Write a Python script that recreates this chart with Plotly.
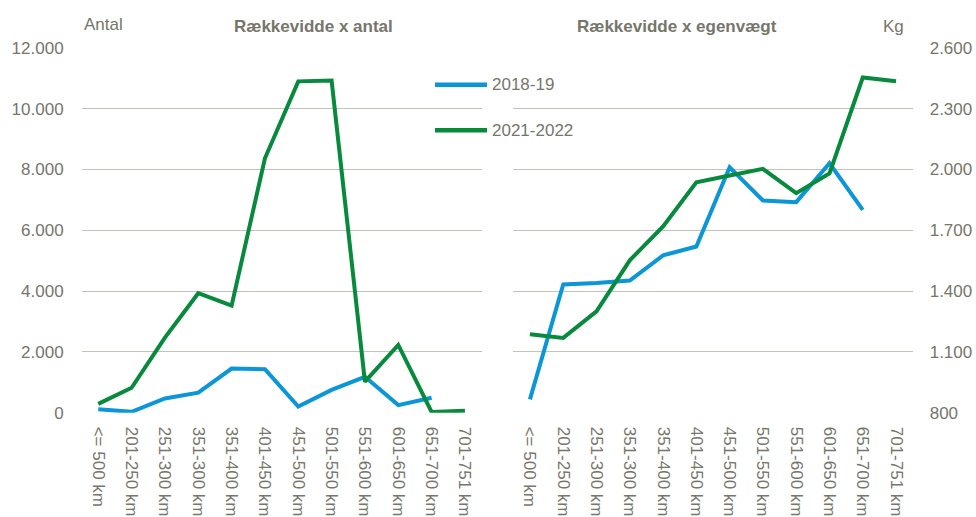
import plotly.graph_objects as go

categories = ["<= 500 km", "201-250 km", "251-300 km", "351-300 km", "351-400 km",
              "401-450 km", "451-500 km", "501-550 km", "551-600 km", "601-650 km",
              "651-700 km", "701-751 km"]

antal_2018 = [110, 30, 470, 660, 1450, 1430, 200, 750, 1180, 250, 490, None]
antal_2021 = [290, 820, 2470, 3930, 3520, 8370, 10900, 10930, 1020, 2230, 25, 65]

kg_2018 = [866, 1433, 1440, 1452, 1576, 1620, 2011, 1847, 1839, 2031, 1801, None]
kg_2021 = [1187, 1169, 1300, 1552, 1719, 1937, 1970, 2003, 1883, 1981, 2454, 2436]

series_names = ["2018-19", "2021-2022"]
left_ticks = [0, 2000, 4000, 6000, 8000, 10000, 12000]
right_ticks = [800, 1100, 1400, 1700, 2000, 2300, 2600]

BLUE = "#0A96D7"
GREEN = "#088A3C"
TXT = "#76766A"
GRID = "#C3C3BA"
FONT = "Liberation Sans, Arial, sans-serif"
FS = 17

W, H = 976, 517
def px(x):
    return x / W
def py(y):
    return 1 - y / H

fig = go.Figure()
fig.add_trace(go.Scatter(x=categories, y=antal_2018, mode="lines", name=series_names[0],
                         line=dict(color=BLUE, width=4), xaxis="x", yaxis="y", showlegend=False,
                         connectgaps=False))
fig.add_trace(go.Scatter(x=categories, y=antal_2021, mode="lines", name=series_names[1],
                         line=dict(color=GREEN, width=4), xaxis="x", yaxis="y", showlegend=False))
fig.add_trace(go.Scatter(x=categories, y=kg_2018, mode="lines", name=series_names[0],
                         line=dict(color=BLUE, width=4), xaxis="x2", yaxis="y2", showlegend=False))
fig.add_trace(go.Scatter(x=categories, y=kg_2021, mode="lines", name=series_names[1],
                         line=dict(color=GREEN, width=4), xaxis="x2", yaxis="y2", showlegend=False))

ydom = [py(412.7), py(47.9)]
tickfont = dict(family=FONT, size=FS, color=TXT)

fig.update_layout(
    width=W, height=H,
    template="none",
    margin=dict(l=0, r=0, t=0, b=0),
    paper_bgcolor="white", plot_bgcolor="white",
    separators=",.",
    font=dict(family=FONT, color=TXT),
    xaxis=dict(domain=[px(81.6), px(481.6)], anchor="y", type="category",
               range=[-0.5, 11.5], showgrid=False, showline=False, zeroline=False,
               tickangle=90, tickfont=tickfont, ticks="", ticklabelstandoff=13,
               automargin=False),
    yaxis=dict(domain=ydom, anchor="x", range=[0, 12000], tickvals=left_ticks,
               tickformat=",d", showgrid=True, gridcolor=GRID, gridwidth=1.3,
               zeroline=False, showline=False, ticks="", tickfont=tickfont,
               ticklabelstandoff=17, automargin=False),
    xaxis2=dict(domain=[px(513.3), px(912.7)], anchor="y2", type="category",
                range=[-0.5, 11.5], showgrid=False, showline=False, zeroline=False,
                tickangle=90, tickfont=tickfont, ticks="", ticklabelstandoff=13,
                automargin=False),
    yaxis2=dict(domain=ydom, anchor="x2", side="right", range=[800, 2600],
                tickvals=right_ticks, tickformat=",d", showgrid=True, gridcolor=GRID,
                gridwidth=1.3, zeroline=False, showline=False, ticks="",
                tickfont=tickfont, ticklabelstandoff=16, automargin=False),
    showlegend=False,
)

ann = []
ann.append(dict(text="<b>Rækkevidde x antal</b>", x=px(313), y=py(26), xref="paper", yref="paper",
                showarrow=False, xanchor="center", yanchor="middle",
                font=dict(family=FONT, size=FS, color=TXT)))
ann.append(dict(text="<b>Rækkevidde x egenvægt</b>", x=px(677), y=py(26), xref="paper", yref="paper",
                showarrow=False, xanchor="center", yanchor="middle",
                font=dict(family=FONT, size=FS, color=TXT)))
ann.append(dict(text="Antal", x=px(82), y=py(24), xref="paper", yref="paper",
                showarrow=False, xanchor="left", yanchor="middle",
                font=dict(family=FONT, size=FS, color=TXT)))
ann.append(dict(text="Kg", x=px(906), y=py(26), xref="paper", yref="paper",
                showarrow=False, xanchor="right", yanchor="middle",
                font=dict(family=FONT, size=FS, color=TXT)))

shapes = []
for name, color, ly in [(series_names[0], BLUE, 84.7), (series_names[1], GREEN, 130.3)]:
    shapes.append(dict(type="line", xref="paper", yref="paper", x0=px(435), x1=px(487),
                       y0=py(ly), y1=py(ly), line=dict(color=color, width=4.5)))
    ann.append(dict(text=name, x=px(490), y=py(ly), xref="paper", yref="paper",
                    showarrow=False, xanchor="left", yanchor="middle",
                    font=dict(family=FONT, size=FS, color=TXT)))

fig.update_layout(annotations=ann, shapes=shapes)
fig.write_html("out.html", config={"displayModeBar": False},
               post_script="document.body.style.margin='0';document.body.style.overflow='hidden';")
